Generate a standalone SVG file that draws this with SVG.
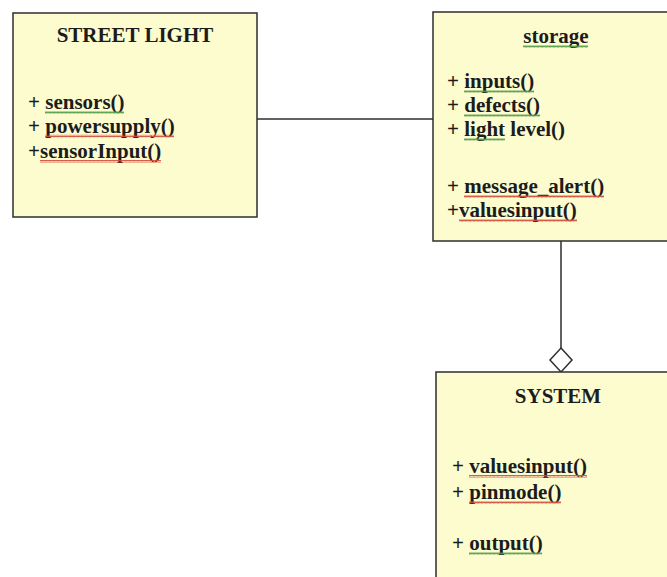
<svg xmlns="http://www.w3.org/2000/svg" width="667" height="577" viewBox="0 0 667 577">
  <style>
    .box { fill: #fdfccf; stroke: #2e2e2e; stroke-width: 1.5; }
    .title { font-family: "Liberation Serif", "Times New Roman", serif; font-weight: bold; font-size: 21px; fill: #1c1c1c; text-anchor: middle; }
    .member { font-family: "Liberation Serif", "Times New Roman", serif; font-weight: bold; font-size: 21px; fill: #1c1c1c; }
    .edge { stroke: #2e2e2e; stroke-width: 1.5; fill: none; }
    .spell { fill: url(#wavyRed); }
    .gram { fill: url(#wavyGreen); }
  </style>
  <defs>
    <pattern id="wavyRed" patternUnits="userSpaceOnUse" width="4" height="3">
      <path d="M0,2.5 L1,0.5 L2,2.5 L3,0.5 L4,2.5" stroke="#d24b3c" stroke-width="0.9" fill="none"/>
    </pattern>
    <pattern id="wavyGreen" patternUnits="userSpaceOnUse" width="4" height="3">
      <path d="M0,2.5 L1,0.5 L2,2.5 L3,0.5 L4,2.5" stroke="#4f9a45" stroke-width="0.9" fill="none"/>
    </pattern>
  </defs>

  <rect width="667" height="577" fill="#ffffff"/>

  <!-- connectors -->
  <g id="connectors">
    <line class="edge" x1="257" y1="119" x2="433" y2="119"/>
    <line class="edge" x1="561" y1="241" x2="561" y2="348"/>
    <polygon class="edge" fill="#ffffff" points="561,348 572,360 561,372 550,360"/>
  </g>

  <!-- class: STREET LIGHT -->
  <g id="street-light">
    <rect class="box" x="13" y="13" width="244" height="204"/>
    <text class="title" x="135" y="42">STREET LIGHT</text>
    <text class="member" x="28" y="109">+ sensors()</text>
    <text class="member" x="28" y="132.5">+ powersupply()</text>
    <text class="member" x="28" y="158">+sensorInput()</text>
    <rect class="gram" x="45" y="111" width="79" height="3"/>
    <rect class="spell" x="45" y="134.5" width="129" height="3"/>
    <rect class="spell" x="40" y="160" width="121" height="3"/>
  </g>

  <!-- class: storage -->
  <g id="storage">
    <rect class="box" x="433" y="12" width="250" height="229"/>
    <text class="title" x="556" y="43">storage</text>
    <text class="member" x="447" y="88">+ inputs()</text>
    <text class="member" x="447" y="112">+ defects()</text>
    <text class="member" x="447" y="136">+ light level()</text>
    <text class="member" x="447" y="193">+ message_alert()</text>
    <text class="member" x="447" y="217">+valuesinput()</text>
    <rect class="gram" x="523" y="45" width="65" height="3"/>
    <rect class="gram" x="464" y="90" width="70" height="3"/>
    <rect class="gram" x="464" y="114" width="76" height="3"/>
    <rect class="gram" x="464" y="138" width="41" height="3"/>
    <rect class="spell" x="464" y="195" width="140" height="3"/>
    <rect class="spell" x="459" y="219" width="118" height="3"/>
  </g>

  <!-- class: SYSTEM -->
  <g id="system">
    <rect class="box" x="436" y="372" width="250" height="220"/>
    <text class="title" x="558" y="403">SYSTEM</text>
    <text class="member" x="452" y="473">+ valuesinput()</text>
    <text class="member" x="452" y="499">+ pinmode()</text>
    <text class="member" x="452" y="550">+ output()</text>
    <rect class="spell" x="469" y="475" width="118" height="3"/>
    <rect class="spell" x="469" y="501" width="92" height="3"/>
    <rect class="gram" x="469" y="552" width="73" height="3"/>
  </g>
</svg>
